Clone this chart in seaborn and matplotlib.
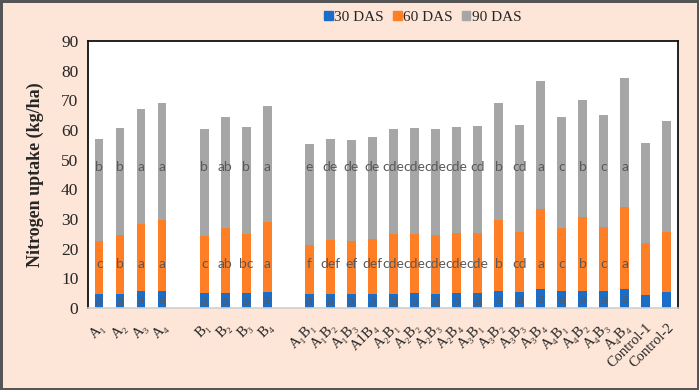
import pandas as pd
import matplotlib.pyplot as plt
import seaborn as sns
from matplotlib.patches import Patch

# treatments
treatments = ["A₁", "A₂", "A₃", "A₄",
              "B₁", "B₂", "B₃", "B₄",
              "A₁B₁", "A₁B₂", "A₁B₃", "A1B₄",
              "A₂B₁", "A₂B₂", "A₂B₃", "A₂B₄",
              "A₃B₁", "A₃B₂", "A₃B₃", "A₃B₄",
              "A₄B₁", "A₄B₂", "A₄B₃", "A₄B₄",
              "Control-1", "Control-2"]

# uptake added in each stage (kg/ha)
das30 = [4.6, 4.9, 5.7, 5.7, 5.1, 5.1, 5.1, 5.5,
         4.6, 4.6, 4.6, 4.6, 4.9, 5.1, 4.9, 5.1,
         5.1, 5.7, 5.5, 6.3, 5.7, 5.7, 5.7, 6.3, 4.3, 5.3]
das60 = [17.9, 19.8, 22.7, 24.1, 19.3, 22.0, 20.0, 23.5,
         16.8, 18.4, 18.1, 18.8, 19.9, 19.7, 19.8, 20.2,
         20.2, 24.1, 20.1, 27.1, 21.4, 24.9, 21.6, 27.9, 17.7, 20.4]
das90 = [34.5, 36.0, 38.7, 39.4, 35.9, 37.3, 35.9, 39.1,
         33.9, 34.0, 33.9, 34.2, 35.5, 35.9, 35.8, 35.8,
         36.0, 39.4, 36.0, 43.2, 37.3, 39.6, 37.8, 43.2, 33.6, 37.5]

# significance letters
let30 = ["a"] * 24 + ["", ""]
let60 = ["c", "b", "a", "a", "c", "ab", "bc", "a",
         "f", "def", "ef", "def", "cde", "cde", "cde", "cde",
         "cde", "b", "cd", "a", "c", "b", "c", "a", "", ""]
let90 = ["b", "b", "a", "a", "b", "ab", "b", "a",
         "e", "de", "de", "de", "cde", "cde", "cde", "cde",
         "cd", "b", "cd", "a", "c", "b", "c", "a", "", ""]

df = pd.DataFrame({"trt": treatments, "d30": das30, "d60": das60, "d90": das90})
df["top60"] = df["d30"] + df["d60"]
df["total"] = df["top60"] + df["d90"]

# empty slots between the groups
order = treatments[:4] + ["gap1"] + treatments[4:8] + ["gap2"] + treatments[8:]

blue, orange, gray = "#1B6EC8", "#FF7F27", "#A6A6A6"
serif = ["Liberation Serif", "DejaVu Serif"]

sns.set_style("white")
fig = plt.figure(figsize=(6.99, 3.90), dpi=100)
fig.patch.set_facecolor("#FDE5D7")
fig.patch.set_edgecolor("#555555")
fig.patch.set_linewidth(2.5)
ax = fig.add_axes([0.126, 0.21, 0.844, 0.685])

kw = dict(data=df, x="trt", order=order, width=0.4, errorbar=None,
          saturation=1, linewidth=0, ax=ax)
sns.barplot(y="total", color=gray, **kw)
sns.barplot(y="top60", color=orange, **kw)
sns.barplot(y="d30", color=blue, **kw)

# letters
pos = {t: order.index(t) for t in treatments}
for i, t in enumerate(treatments):
    x = pos[t]
    ax.text(x, das30[i] / 2, let30[i], ha="center", va="center",
            fontsize=9.5, color="#595959", family="Lato")
    ax.text(x, 15, let60[i], ha="center", va="center",
            fontsize=10, color="#595959", family="Lato")
    ax.text(x, 47.5, let90[i], ha="center", va="center",
            fontsize=10, color="#595959", family="Lato")

ax.set_ylim(0, 90)
ax.set_xlim(-0.53, len(order) - 0.46)
ax.set_yticks(range(0, 91, 10))
ax.set_yticklabels([str(v) for v in range(0, 91, 10)], family=serif, fontsize=12.5)
ax.set_xticks(range(len(order)))
ax.set_xticklabels(["" if o.startswith("gap") else o for o in order],
                   rotation=45, ha="right", rotation_mode="anchor",
                   family=serif, fontsize=10.5)
ax.tick_params(axis="both", length=0, pad=7)
ax.tick_params(axis="x", pad=9)
ax.set_xlabel("")
ax.set_ylabel("Nitrogen uptake (kg/ha)", family=serif, fontsize=13,
              fontweight="bold", labelpad=12)

for s in ["top", "left", "right"]:
    ax.spines[s].set_visible(True)
    ax.spines[s].set_color("#111111")
    ax.spines[s].set_linewidth(1.3)
ax.spines["bottom"].set_color("#D0D0D0")
ax.spines["bottom"].set_linewidth(1.2)

handles = [Patch(color=blue, label="30 DAS"),
           Patch(color=orange, label="60 DAS"),
           Patch(color=gray, label="90 DAS")]
fig.legend(handles=handles, loc="center", bbox_to_anchor=(0.605, 0.955), ncol=3,
           frameon=False, prop={"family": serif, "size": 11},
           handlelength=0.55, handleheight=0.55, handletextpad=0.1, columnspacing=0.6)

plt.savefig("out.png", dpi=100, facecolor=fig.get_facecolor(), edgecolor=fig.get_edgecolor())
